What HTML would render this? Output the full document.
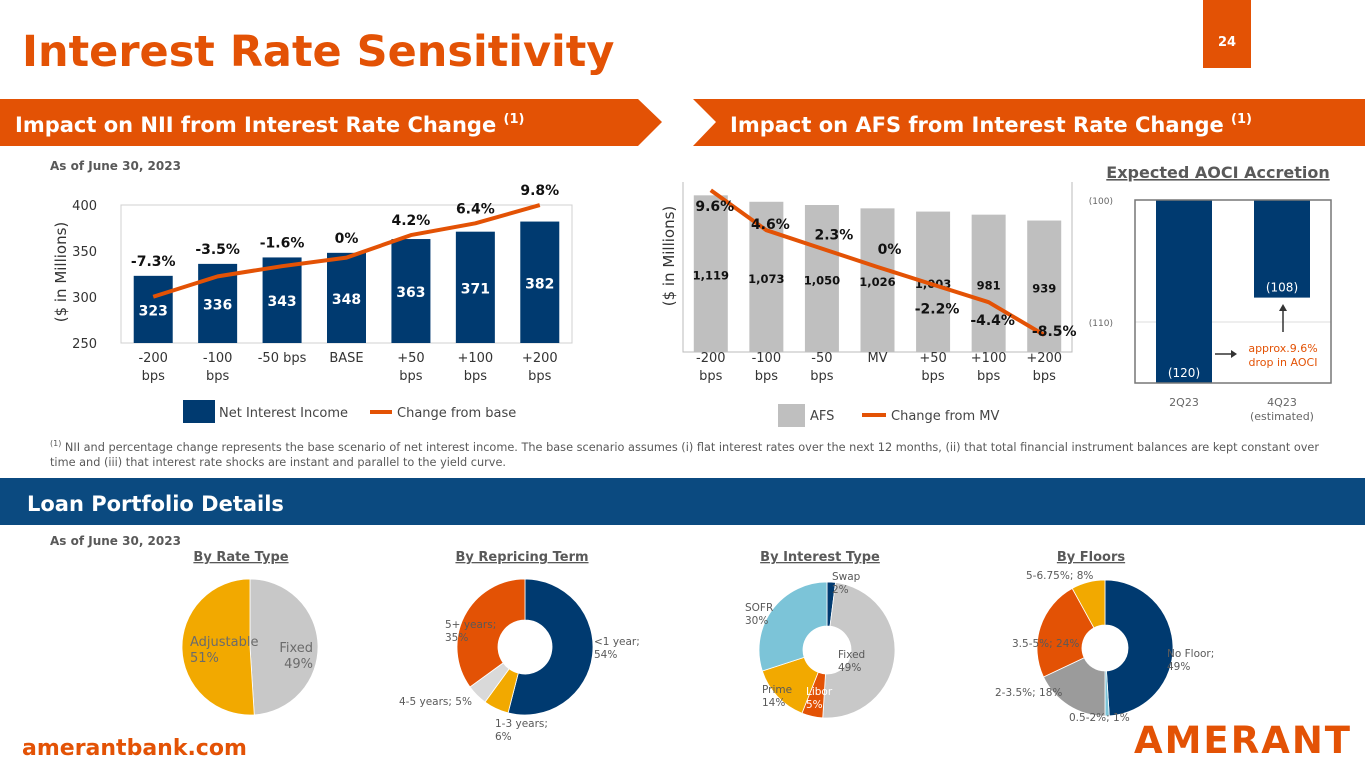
<!DOCTYPE html>
<html><head><meta charset="utf-8">
<style>
html,body{margin:0;padding:0;background:#fff;}
svg{display:block;font-family:"DejaVu Sans","Liberation Sans",sans-serif;}
</style></head>
<body>
<svg id="page" width="1365" height="768" viewBox="0 0 1365 768" xmlns="http://www.w3.org/2000/svg">
  <text x="22" y="66" font-size="43" font-weight="bold" fill="#E35205">Interest Rate Sensitivity</text>
  <rect x="1203" y="0" width="48" height="68" fill="#E35205"/>
  <text x="1227" y="46" font-size="13" font-weight="bold" fill="#fff" text-anchor="middle">24</text>

  <polygon points="0,99 638,99 662,122 638,146 0,146" fill="#E35205"/>
  <text x="15" y="132" font-size="21" font-weight="bold" fill="#fff">Impact on NII from Interest Rate Change <tspan font-size="13" dy="-9">(1)</tspan></text>
  <polygon points="693,99 1365,99 1365,146 693,146 716,122" fill="#E35205"/>
  <text x="730" y="132" font-size="21" font-weight="bold" fill="#fff">Impact on AFS from Interest Rate Change <tspan font-size="13" dy="-9">(1)</tspan></text>

  <text x="50" y="170" font-size="12" font-weight="bold" fill="#595959">As of June 30, 2023</text>

  <g id="nii"></g>
  <g id="afs"></g>
  <g id="aoci"></g>

  <text x="50" y="451" font-size="11.3" fill="#595959"><tspan font-size="8" dy="-5">(1)</tspan><tspan dy="5"> NII and percentage change represents the base scenario of net interest income. The base scenario assumes (i) flat interest rates over the next 12 months, (ii) that total financial instrument balances are kept constant over</tspan></text>
  <text x="50" y="466" font-size="11.3" fill="#595959">time and (iii) that interest rate shocks are instant and parallel to the yield curve.</text>

  <rect x="0" y="478" width="1365" height="47" fill="#0B4A80"/>
  <text x="27" y="511" font-size="21" font-weight="bold" fill="#fff">Loan Portfolio Details</text>
  <text x="50" y="545" font-size="12" font-weight="bold" fill="#595959">As of June 30, 2023</text>

  <g id="pies"></g>

  <text x="22" y="755" font-size="22" font-weight="bold" fill="#E35205">amerantbank.com</text>
  <text x="1243" y="753" font-size="37" font-weight="bold" fill="#E35205" text-anchor="middle" letter-spacing="2">AMERANT</text>
</svg>
<script>
// ---------- NII data ----------
const niiCategories = ["-200|bps","-100|bps","-50 bps","BASE","+50|bps","+100|bps","+200|bps"];
const niiValues = [323,336,343,348,363,371,382];
const niiPct = [-7.3,-3.5,-1.6,0,4.2,6.4,9.8];
const niiPctLabels = ["-7.3%","-3.5%","-1.6%","0%","4.2%","6.4%","9.8%"];
const niiTicks = [250,300,350,400];
// ---------- AFS data ----------
const afsCategories = ["-200|bps","-100|bps","-50|bps","MV","+50|bps","+100|bps","+200|bps"];
const afsValues = [1119,1073,1050,1026,1003,981,939];
const afsValueLabels = ["1,119","1,073","1,050","1,026","1,003","981","939"];
const afsPct = [9.6,4.6,2.3,0,-2.2,-4.4,-8.5];
const afsPctLabels = ["9.6%","4.6%","2.3%","0%","-2.2%","-4.4%","-8.5%"];
// ---------- AOCI data ----------
const aociCategories = ["2Q23","4Q23|(estimated)"];
const aociValues = [-120,-108];
const aociLabels = ["(120)","(108)"];
const aociTicks = [-100,-110];
const aociTickLabels = ["(100)","(110)"];
// ---------- Pie data ----------
const rateTypeLabels = ["Fixed","Adjustable"];
const rateTypeValues = [49,51];
const repricingLabels = ["<1 year","1-3 years","4-5 years","5+ years"];
const repricingValues = [54,6,5,35];
const interestLabels = ["Swap","Fixed","Libor","Prime","SOFR"];
const interestValues = [2,49,5,14,30];
const floorLabels = ["No Floor","0.5-2%","2-3.5%","3.5-5%","5-6.75%"];
const floorValues = [49,1,18,24,8];

const NS="http://www.w3.org/2000/svg";
function mk(parent,tag,attrs){const e=document.createElementNS(NS,tag);for(const k in attrs)e.setAttribute(k,attrs[k]);parent.appendChild(e);return e;}
function txt(parent,x,y,s,size,fill,anchor,weight){const t=mk(parent,'text',{x:x,y:y,'font-size':size,fill:fill,'text-anchor':anchor||'middle','font-weight':weight||'normal'});t.textContent=s;return t;}
const ORANGE="#E35205", NAVY="#003A70";

// ===== NII chart =====
(function(){
  const g=document.getElementById('nii');
  const L=121,R=572,T=205,B=343;
  const y=v=>B-(v-250)*(B-T)/150;
  const yp=p=>257.6-5.36*p;
  const step=(R-L)/niiValues.length;
  const x=i=>L+step*(i+0.5);
  const frame=mk(g,'rect',{x:L,y:T,width:R-L,height:B-T,fill:'none',stroke:'#d0d0d0'});
  
  
  niiTicks.forEach(v=>{const t=txt(g,97,y(v)+5,String(v),13,'#333','end');
    
    });
  const yt=txt(g,0,0,'($ in Millions)',15,'#333','middle');
  yt.setAttribute('transform','translate(66,272) rotate(-90)');
  
  
  niiValues.forEach((v,i)=>{
    const r=mk(g,'rect',{x:x(i)-19.5,y:y(v),width:39,height:B-y(v),fill:NAVY});
    
    
    const l=txt(g,x(i),(y(v)+B)/2+6,String(v),14,'#fff','middle','bold');
    
    
    const parts=niiCategories[i].split('|');
    parts.forEach((p,k)=>{const c=txt(g,x(i),362+k*18,p,13,'#333');
      
      });
    const pl=txt(g,x(i),Math.min(y(v),yp(niiPct[i]))-10,niiPctLabels[i],14,'#111','middle','bold');
    
    
  });
  const pts=niiPct.map((p,i)=>x(i)+','+yp(p)).join(' ');
  const line=mk(g,'polyline',{points:pts,fill:'none',stroke:ORANGE,'stroke-width':4,'stroke-linejoin':'round'});
  
  
  const sw=mk(g,'rect',{x:183,y:400,width:32,height:23,fill:NAVY});
  
  
  const lt=txt(g,219,417,'Net Interest Income',13,'#444','start');
  
  
  const ls=mk(g,'line',{x1:370,y1:412,x2:392,y2:412,stroke:ORANGE,'stroke-width':4});
  
  
  const lt2=txt(g,397,417,'Change from base',13,'#444','start');
  
  
})();

// ===== AFS chart =====
(function(){
  const g=document.getElementById('afs');
  const L=683,R=1072,T=182,B=352;
  const y=v=>B-v*0.14;
  const yp=p=>267-8.0*p;
  const step=(R-L)/afsValues.length;
  const x=i=>L+step*(i+0.5);
  const dxs=[-0,0,8,8,0,0,6], dys=[16,-6,-14,-18,24,18,-4];
  const ax=mk(g,'path',{d:`M${L} ${T} V${B} H${R} V${T}`,fill:'none',stroke:'#bbb'});
  
  
  const yt=txt(g,0,0,'($ in Millions)',15,'#333','middle');
  yt.setAttribute('transform','translate(674,256) rotate(-90)');
  
  
  afsValues.forEach((v,i)=>{
    const r=mk(g,'rect',{x:x(i)-17,y:y(v),width:34,height:B-y(v),fill:'#BFBFBF'});
    
    
    const l=txt(g,x(i),(y(v)+B)/2+6,afsValueLabels[i],11.5,'#111','middle','bold');
    
    
    afsCategories[i].split('|').forEach((p,k)=>{const c=txt(g,x(i),362+k*18,p,13,'#333');
      
      });
  });
  const pts=afsPct.map((p,i)=>x(i)+','+yp(p)).join(' ');
  const line=mk(g,'polyline',{points:pts,fill:'none',stroke:ORANGE,'stroke-width':4,'stroke-linejoin':'round'});
  
  
  afsPct.forEach((p,i)=>{
    const pl=txt(g,x(i)+dxs[i]+4,yp(p)+dys[i]+5,afsPctLabels[i],14,'#111','middle','bold');
    
    
  });
  const sw=mk(g,'rect',{x:778,y:404,width:27,height:23,fill:'#BFBFBF'});
  
  
  const lt=txt(g,810,420,'AFS',13,'#444','start');
  
  
  const ls=mk(g,'line',{x1:862,y1:415,x2:886,y2:415,stroke:ORANGE,'stroke-width':4});
  
  
  const lt2=txt(g,891,420,'Change from MV',13,'#444','start');
  
  
})();

// ===== AOCI chart =====
(function(){
  const g=document.getElementById('aoci');
  const L=1135,R=1331,T=200,B=383;
  const y=v=>T+(-100-v)*12.2;
  const step=(R-L)/aociValues.length;
  const x=i=>L+step*(i+0.5);
  const h=txt(g,1218,178,'Expected AOCI Accretion',16,'#595959','middle','bold');
  h.setAttribute('text-decoration','underline');
  
  
  mk(g,'line',{x1:L,y1:y(-110),x2:R,y2:y(-110),stroke:'#ddd'});
  aociTicks.forEach((v,i)=>{const t=txt(g,1113,y(v)+4,aociTickLabels[i],9,'#666','end');
    
    });
  aociValues.forEach((v,i)=>{
    const bot=Math.min(y(v),B);
    const r=mk(g,'rect',{x:x(i)-28,y:T,width:56,height:bot-T,fill:NAVY});
    
    
    const l=txt(g,x(i),bot-6,aociLabels[i],12,'#fff');
    
    
    aociCategories[i].split('|').forEach((p,k)=>{const c=txt(g,x(i),406+k*14,p,11,'#666');
      
      });
  });
  const fr=mk(g,'rect',{x:L,y:T,width:R-L,height:B-T,fill:'none',stroke:'#777','stroke-width':1.5});
  
  
  mk(g,'path',{d:'M1215 354 H1232',stroke:'#333','stroke-width':1.5,fill:'none'});
  mk(g,'path',{d:'M1231 350 L1237 354 L1231 358 Z',fill:'#333'});
  mk(g,'path',{d:'M1283 332 V310',stroke:'#333','stroke-width':1.5,fill:'none'});
  mk(g,'path',{d:'M1279 311 L1283 304 L1287 311 Z',fill:'#333'});
  const a1=txt(g,1283,352,'approx.9.6%',11,ORANGE);
  
  
  const a2=txt(g,1283,366,'drop in AOCI',11,ORANGE);
  
  
})();

// ===== Pies =====
function donut(g,cx,cy,r,hole,values,colors,name){
  const tot=values.reduce((a,b)=>a+b,0);let a0=-Math.PI/2;
  values.forEach((v,i)=>{
    const a1=a0+v/tot*2*Math.PI;const large=(a1-a0)>Math.PI?1:0;
    const p=(rr,a)=>[cx+rr*Math.cos(a),cy+rr*Math.sin(a)];
    const [x0,y0]=p(r,a0),[x1,y1]=p(r,a1);
    let d;
    if(hole>0){const [hx1,hy1]=p(hole,a1),[hx0,hy0]=p(hole,a0);
      d=`M${x0} ${y0} A${r} ${r} 0 ${large} 1 ${x1} ${y1} L${hx1} ${hy1} A${hole} ${hole} 0 ${large} 0 ${hx0} ${hy0} Z`;}
    else d=`M${cx} ${cy} L${x0} ${y0} A${r} ${r} 0 ${large} 1 ${x1} ${y1} Z`;
    const s=mk(g,'path',{d:d,fill:colors[i],stroke:'#fff','stroke-width':0.8});
    
    
    a0=a1;
  });
}
function lab(g,x,y,lines,color,anchor,size){lines.forEach((s,k)=>{const t=txt(g,x,y+k*(size?16:13),s,size||10.5,color||'#595959',anchor||'start');
  
  });}
function title(g,x,s){const t=txt(g,x,561,s,13,'#595959','middle','bold');
  t.setAttribute('text-decoration','underline');
  
  }
(function(){
  const g=document.getElementById('pies');
  const GOLD="#F2A900",LG="#C8C8C8";
  title(g,241,'By Rate Type');title(g,522,'By Repricing Term');title(g,820,'By Interest Type');title(g,1091,'By Floors');
  donut(g,250,647,68,0,rateTypeValues,[LG,GOLD],'rate-type-slice');
  lab(g,190,646,[rateTypeLabels[1],rateTypeValues[1]+'%'],'#6b6b6b','start',13);
  lab(g,313,652,[rateTypeLabels[0],rateTypeValues[0]+'%'],'#6b6b6b','end',13);
  donut(g,525,647,68,27,repricingValues,[NAVY,GOLD,"#D9D9D9",ORANGE],'repricing-slice');
  lab(g,594,645,[repricingLabels[0]+';',repricingValues[0]+'%']);
  lab(g,495,727,[repricingLabels[1]+';',repricingValues[1]+'%']);
  lab(g,399,705,[repricingLabels[2]+'; '+repricingValues[2]+'%']);
  lab(g,445,628,[repricingLabels[3]+';',repricingValues[3]+'%']);
  donut(g,827,650,68,24,interestValues,[NAVY,LG,ORANGE,GOLD,"#7CC4D8"],'interest-type-slice');
  lab(g,832,580,[interestLabels[0],interestValues[0]+'%']);
  lab(g,838,658,[interestLabels[1],interestValues[1]+'%']);
  lab(g,806,695,[interestLabels[2],interestValues[2]+'%'],'#fff');
  lab(g,762,693,[interestLabels[3],interestValues[3]+'%']);
  lab(g,745,611,[interestLabels[4],interestValues[4]+'%']);
  donut(g,1105,648,68,23,floorValues,[NAVY,"#7CC4D8","#9B9B9B",ORANGE,GOLD],'floor-slice');
  lab(g,1167,657,[floorLabels[0]+';',floorValues[0]+'%']);
  lab(g,1069,721,[floorLabels[1]+'; '+floorValues[1]+'%']);
  lab(g,995,696,[floorLabels[2]+'; '+floorValues[2]+'%']);
  lab(g,1012,647,[floorLabels[3]+'; '+floorValues[3]+'%']);
  lab(g,1026,579,[floorLabels[4]+'; '+floorValues[4]+'%']);
})();
</script>
</body></html>
